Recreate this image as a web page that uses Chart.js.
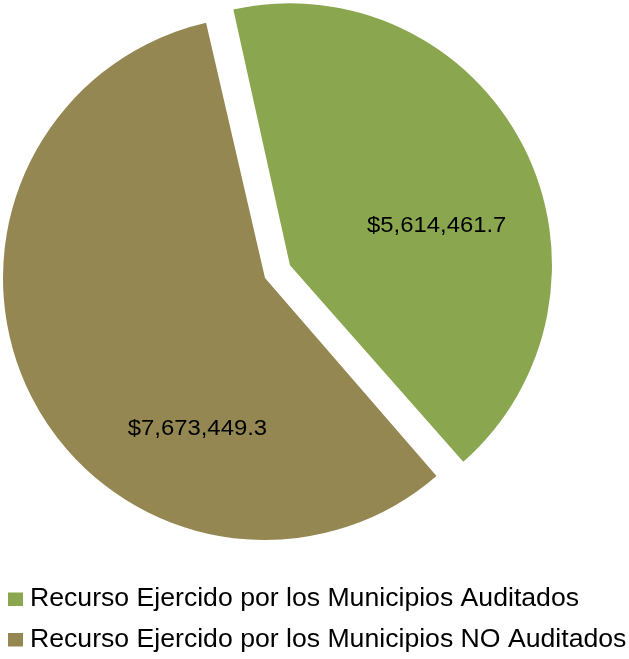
<!doctype html>
<html lang="es">

<head>
    <meta charset="utf-8">
    <title>Recurso Ejercido</title>
    <style>
        body { margin: 0; background: #fff; }
    </style>
</head>

<body>
    <canvas id="pie" width="629" height="659"></canvas>

    <script src="https://cdn.jsdelivr.net/npm/chart.js"></script>
    <script>
        const categories = [
            "Recurso Ejercido por los Municipios Auditados",
            "Recurso Ejercido por los Municipios NO Auditados"
        ];
        const values = [5614461.7, 7673449.3];
        const valueLabels = ["$5,614,461.7", "$7,673,449.3"];
        const colors = ["#8AA64F", "#948752"];

        // where each value label sits, as a fraction of the radius from the slice centre
        const labelSpots = [[0.56, -0.129], [-0.258, 0.599]];

        // chart.js moves an exploded slice by offset/4 and also grows its radius,
        // keep the slice the same size as the other one
        const keepRadius = {
            id: "keepRadius",
            beforeDatasetsDraw(chart) {
                const meta = chart.getDatasetMeta(0);
                const R = meta.controller.outerRadius;
                meta.data.forEach(arc => {
                    const shift = (arc.options.offset || 0) / 4;
                    const c = arc.endAngle - arc.startAngle;
                    const fix = 1 - Math.sin(Math.min(Math.PI, c));
                    arc.outerRadius = R - shift * fix;
                });
            }
        };

        const sliceLabels = {
            id: "sliceLabels",
            afterDatasetsDraw(chart) {
                const ctx = chart.ctx;
                const meta = chart.getDatasetMeta(0);
                const r = meta.controller.outerRadius;
                meta.data.forEach((arc, i) => {
                    const mid = (arc.startAngle + arc.endAngle) / 2;
                    const off = (arc.options.offset || 0) / 4;
                    const cx = arc.x + Math.cos(mid) * off;
                    const cy = arc.y + Math.sin(mid) * off;
                    ctx.save();
                    ctx.translate(cx + labelSpots[i][0] * r, cy + labelSpots[i][1] * r);
                    ctx.scale(1.085, 1);
                    ctx.font = "22px 'Liberation Sans', Arial, sans-serif";
                    ctx.fillStyle = "#000";
                    ctx.textAlign = "center";
                    ctx.textBaseline = "alphabetic";
                    ctx.fillText(valueLabels[i], 0, 0);
                    ctx.restore();
                });
            }
        };

        const bottomLegend = {
            id: "bottomLegend",
            afterDraw(chart) {
                const ctx = chart.ctx;
                const top = chart.chartArea.bottom;
                ctx.save();
                categories.forEach((name, i) => {
                    const base = top + 50 + i * 40.5;
                    ctx.fillStyle = colors[i];
                    ctx.fillRect(8, base - 13.5, 15, 13.5);
                    ctx.save();
                    ctx.translate(30, base);
                    ctx.scale(1.065, 1);
                    ctx.font = "25px 'Liberation Sans', Arial, sans-serif";
                    ctx.fillStyle = "#000";
                    ctx.textBaseline = "alphabetic";
                    ctx.fillText(name, 0, 0);
                    ctx.restore();
                });
                ctx.restore();
            }
        };

        new Chart(document.getElementById("pie"), {
            type: "pie",
            data: {
                labels: categories,
                datasets: [{
                    data: values,
                    backgroundColor: colors,
                    borderWidth: 0,
                    offset: [112, 0]
                }]
            },
            options: {
                responsive: false,
                animation: false,
                rotation: -13,
                radius: 262,
                layout: { padding: { left: 0, top: 0, right: 99, bottom: 103 } },
                plugins: {
                    legend: { display: false },
                    tooltip: { enabled: false }
                }
            },
            plugins: [keepRadius, sliceLabels, bottomLegend]
        });
    </script>
</body>

</html>
